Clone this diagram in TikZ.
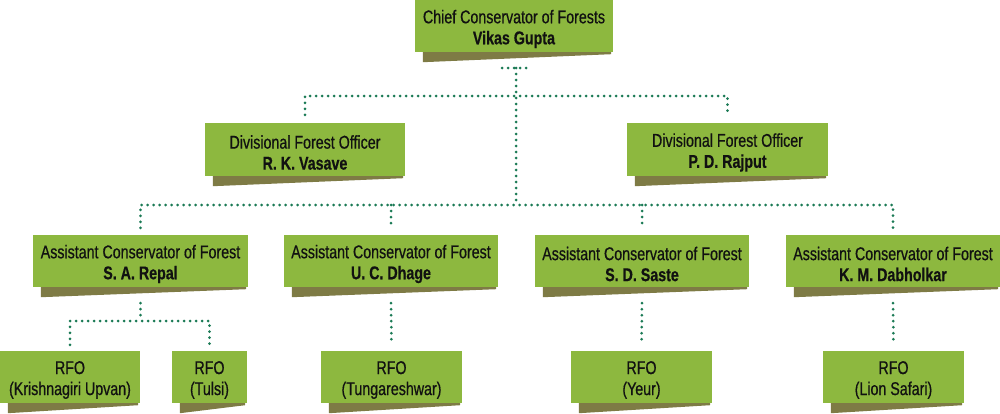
\documentclass[tikz,border=0pt]{standalone}
\usepackage{fontspec}
\setmainfont{Liberation Sans}[FakeStretch=0.77,
  UprightFeatures={FakeBold=0.6}, BoldFeatures={FakeBold=0.5}]
\definecolor{leaf}{HTML}{8DB83F}
\definecolor{bark}{HTML}{7E7B45}
\definecolor{dotgreen}{HTML}{1B7A55}
\definecolor{ink}{HTML}{111111}
% olive drop shadow under a card
\newcommand\cardshadow[1]{%
  \fill[bark] ([xshift=8pt]#1.south west) -- ([xshift=-2pt]#1.south east)
    -- ([xshift=-2pt,yshift=-2pt]#1.south east)
    -- ([xshift=8pt,yshift=-10pt]#1.south west) -- cycle;}
\begin{document}
\begin{tikzpicture}[x=1pt,y=-1pt,
  card/.style={fill=leaf, inner sep=0pt, minimum height=52pt},
  cardtext/.style={align=center, text=ink, inner sep=0pt, yshift=-3pt,
    font=\fontsize{18.5}{21}\selectfont},
  link/.style={draw=dotgreen, line width=3pt, line cap=round,
    dash pattern=on 0pt off 6pt}]
\useasboundingbox (0,0) rectangle (1000,413);

% cards
\node[card, minimum width=198pt,
  label={[cardtext]center:{Chief Conservator of Forests\\\textbf{Vikas Gupta}}}]
  (cfo) at (514,26) {};
\node[card, minimum width=200pt, minimum height=53pt,
  label={[cardtext]center:{Divisional Forest Officer\\\textbf{R. K. Vasave}}}]
  (dfo1) at (305,149.5) {};
\node[card, minimum width=201pt, minimum height=53pt,
  label={[cardtext]center:{Divisional Forest Officer\\\textbf{P. D. Rajput}}}]
  (dfo2) at (727.5,149.5) {};

\node[card, minimum width=215pt,
  label={[cardtext]center:{Assistant Conservator of Forest\\\textbf{S. A. Repal}}}]
  (acf1) at (140.5,261) {};
\node[card, minimum width=214pt,
  label={[cardtext]center:{Assistant Conservator of Forest\\\textbf{U. C. Dhage}}}]
  (acf2) at (391,261) {};
\node[card, minimum width=214pt,
  label={[cardtext]center:{Assistant Conservator of Forest\\\textbf{S. D. Saste}}}]
  (acf3) at (642,261) {};
\node[card, minimum width=214pt,
  label={[cardtext]center:{Assistant Conservator of Forest\\\textbf{K. M. Dabholkar}}}]
  (acf4) at (893,261) {};

\node[card, minimum width=140pt,
  label={[cardtext]center:{RFO\\(Krishnagiri Upvan)}}] (rfo1) at (70,377) {};
\node[card, minimum width=75pt,
  label={[cardtext]center:{RFO\\(Tulsi)}}] (rfo2) at (209.5,377) {};
\node[card, minimum width=141pt,
  label={[cardtext]center:{RFO\\(Tungareshwar)}}] (rfo3) at (391.5,377) {};
\node[card, minimum width=141pt,
  label={[cardtext]center:{RFO\\(Yeur)}}] (rfo4) at (641.5,377) {};
\node[card, minimum width=141pt,
  label={[cardtext]center:{RFO\\(Lion Safari)}}] (rfo5) at (893.5,377) {};

\foreach \n in {cfo,dfo1,dfo2,acf1,acf2,acf3,acf4,rfo1,rfo2,rfo3,rfo4,rfo5}
  {\cardshadow{\n}}

% dotted connectors
\coordinate (capL) at (502,68);
\coordinate (capR) at (531,68);
\coordinate (hub) at (516,68);
\coordinate (fork) at (516,205);
\draw[link] (capL) -- (capR);
\draw[link] (hub) -- (fork);

\draw[link] ([yshift=8pt]dfo1.north) -- (dfo1.north |- 0,96)
  -- (dfo2.north |- 0,96) -- ([yshift=8pt]dfo2.north);

\draw[link] ([yshift=7pt]acf1.north) -- (acf1.north |- fork)
  -- (acf4.north |- fork) -- ([yshift=7pt]acf4.north);
\draw[link] (acf2.north |- fork) -- ([yshift=7pt]acf2.north);
\draw[link] (acf3.north |- fork) -- ([yshift=7pt]acf3.north);

\draw[link] ([yshift=-16pt]acf1.south) -- (acf1.south |- 0,321);
\draw[link] ([yshift=6pt]rfo1.north) -- (rfo1.north |- 0,321)
  -- (rfo2.north |- 0,321) -- ([yshift=6pt]rfo2.north);
\draw[link] ([yshift=-16pt]acf2.south) -- ([yshift=6pt]rfo3.north);
\draw[link] ([yshift=-16pt]acf3.south) -- ([yshift=6pt]rfo4.north);
\draw[link] ([yshift=-16pt]acf4.south) -- ([yshift=6pt]rfo5.north);
\end{tikzpicture}
\end{document}
